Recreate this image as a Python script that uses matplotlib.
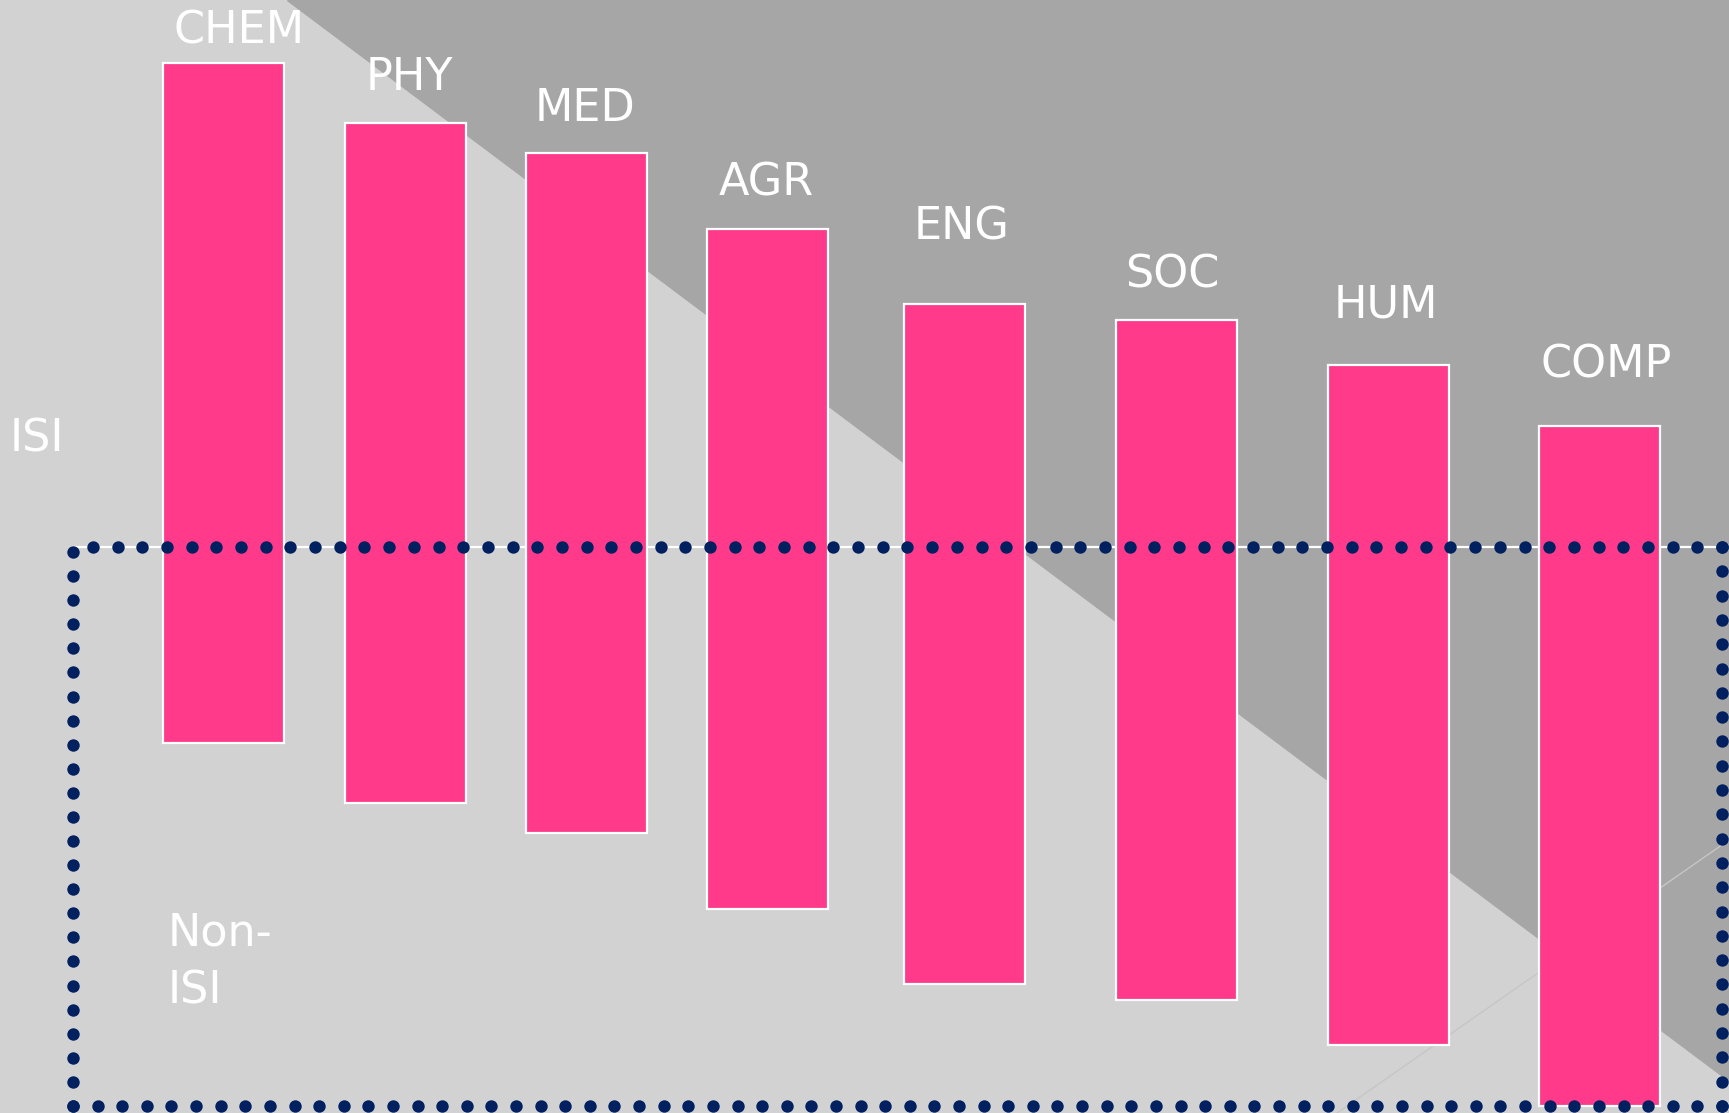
import numpy as np
import matplotlib.pyplot as plt
from matplotlib.patches import Polygon

# fields and where each bar sits (canvas units, y going up, 0..1113)
fields = ["CHEM", "PHY", "MED", "AGR", "ENG", "SOC", "HUM", "COMP"]
bar_x = [224, 406, 587, 768, 965, 1177, 1389, 1600]
bar_top = [1050, 990, 960, 884, 809, 793, 748, 687]
bar_len = 680
label_gap = [19, 33, 32, 34, 64, 33, 47, 49]
label_dx = [15, 3, -2, -2, -3, -5, -3, 6]

W, H = 1729, 1113
pink = "#ff3a8b"
navy = "#002060"

fig = plt.figure(figsize=(W / 100, H / 100), dpi=100)
ax = fig.add_axes([0, 0, 1, 1])
ax.set_xlim(0, W)
ax.set_ylim(0, H)
ax.axis("off")

# background: light grey with darker triangle top right
ax.add_patch(Polygon([(0, 0), (W, 0), (W, H), (0, H)], color="#d2d2d2", zorder=0))
ax.add_patch(Polygon([(287, H), (W, H), (W, H - 1081)], color="#a6a6a6", zorder=0.5))
ax.plot([1337, W], [0, H - 840], color="#c6c6c6", lw=1, zorder=0.6)

# ISI / Non-ISI split line
ax.plot([73, 1722], [H - 547, H - 547], color="white", lw=1.6, zorder=1)

bottoms = [t - bar_len for t in bar_top]
ax.bar(bar_x, bar_len, width=121, bottom=bottoms, color=pink,
       edgecolor="white", linewidth=1.6, zorder=2)

font = dict(family=["DejaVu Sans"], weight="normal", color="white")
for x, t, g, dx, name in zip(bar_x, bar_top, label_gap, label_dx, fields):
    ax.text(x + dx, t + g, name, ha="center", va="baseline", fontsize=32, **font)

ax.text(10, H - 452, "ISI", ha="left", va="baseline", fontsize=32, **font)
ax.text(168, H - 945, "Non-", ha="left", va="baseline", fontsize=32, **font)
ax.text(168, H - 1003, "ISI", ha="left", va="baseline", fontsize=32, **font)

# dotted frame around the Non-ISI part
left, right, top, bot = 73, 1722, H - 547, H - 1106
step = 24.5
def dots(x0, y0, x1, y1):
    n = int(round(np.hypot(x1 - x0, y1 - y0) / step)) + 1
    return np.linspace(x0, x1, n), np.linspace(y0, y1, n)

for seg in [(93, top, right, top), (left, top - 5, left, bot),
            (left, bot, right, bot), (right, top, right, bot)]:
    xs, ys = dots(*seg)
    ax.scatter(xs, ys, s=80, color=navy, linewidths=0, zorder=3)

fig.savefig("out.png", dpi=100)
